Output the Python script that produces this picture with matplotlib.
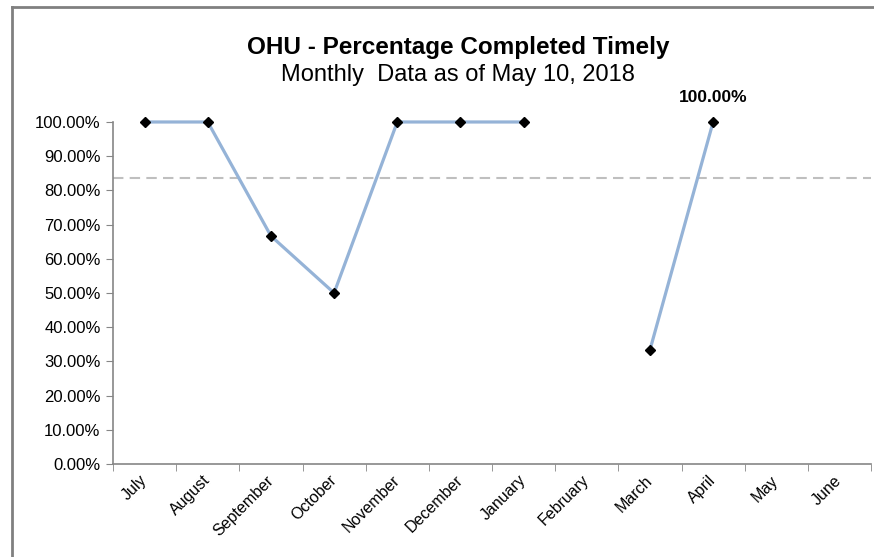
import numpy as np
import matplotlib
matplotlib.use("Agg")
import matplotlib.pyplot as plt
from matplotlib.lines import Line2D

plt.rcParams['font.family'] = ['Liberation Sans', 'DejaVu Sans']

months = ['July', 'August', 'September', 'October', 'November', 'December',
          'January', 'February', 'March', 'April', 'May', 'June']
pct = [100.0, 100.0, 66.67, 50.0, 100.0, 100.0, 100.0,
       np.nan, 33.33, 100.0, np.nan, np.nan]
target = 83.5
yticks = np.arange(0, 101, 10)

fig = plt.figure(figsize=(8.74, 5.57), dpi=100)
ax = fig.add_axes([0.1293, 0.167, 0.8673, 0.614])

x = np.arange(len(months))
ax.plot(x, pct, color='#95B3D7', lw=2.3, zorder=2, clip_on=False)
ax.plot(x, pct, ls='none', marker='D', ms=5.5, color='black', zorder=3, clip_on=False)
ax.axhline(target, color='#BFBFBF', lw=1.5, ls=(0, (5, 3)), zorder=1, clip_on=False)

# label on last point
last = 9
ax.annotate(f'{pct[last]:.2f}%', (x[last], pct[last]), xytext=(0, 12),
            textcoords='offset points', ha='center', va='bottom',
            fontsize=12.5, fontweight='bold')

ax.set_xlim(-0.5, len(months) - 0.5)
ax.set_ylim(0, 100)
ax.set_yticks(yticks)
ax.set_yticklabels([f'{v:.2f}%' for v in yticks], fontsize=12)

ax.set_xticks(np.arange(-0.5, len(months), 1), minor=True)
ax.set_xticks(x)
ax.set_xticklabels(months, rotation=45, ha='right', va='center',
                   rotation_mode='anchor', fontsize=11.5)
ax.tick_params(axis='x', which='major', length=0, pad=10)
ax.tick_params(axis='x', which='minor', length=5, color='#868686')
ax.tick_params(axis='y', length=5, color='#868686', pad=4)

for s in ['top', 'right']:
    ax.spines[s].set_visible(False)
for s in ['left', 'bottom']:
    ax.spines[s].set_color('#868686')
    ax.spines[s].set_linewidth(1.2)

fig.text(0.524, 0.914, 'OHU - Percentage Completed Timely', ha='center',
         va='center', fontsize=17.5, fontweight='bold')
fig.text(0.524, 0.865, 'Monthly  Data as of May 10, 2018', ha='center',
         va='center', fontsize=17)

# outer chart border
fig.add_artist(Line2D([12 / 874, 12 / 874], [0, 1 - 7 / 557], color='#808080', lw=2))
fig.add_artist(Line2D([12 / 874, 1], [1 - 7 / 557, 1 - 7 / 557], color='#808080', lw=2))

fig.savefig('out.png', dpi=100)
